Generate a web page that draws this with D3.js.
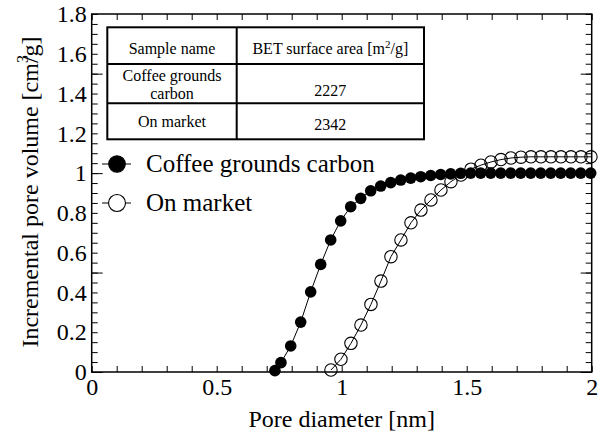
<!DOCTYPE html>
<html>
<head>
<meta charset="utf-8">
<script src="https://cdn.jsdelivr.net/npm/d3@7"></script>
<style>
  body { margin: 0; background: #fff; }
  svg { display: block; font-family: "Liberation Serif", "Times New Roman", serif; }
</style>
</head>
<body>
<script>
"use strict";
// pore size distribution
const coffeeX = [0.733, 0.757, 0.796, 0.836, 0.876, 0.916, 0.956, 0.996, 1.036, 1.076, 1.116, 1.156,
    1.196, 1.236, 1.276, 1.316, 1.356, 1.396, 1.436, 1.476, 1.516, 1.556, 1.596, 1.636, 1.676,
    1.716, 1.756, 1.796, 1.836, 1.876, 1.916, 1.956, 1.996];
const coffeeY = [0.007, 0.047, 0.131, 0.251, 0.403, 0.541, 0.664, 0.760, 0.831, 0.873, 0.911, 0.935,
    0.952, 0.965, 0.975, 0.982, 0.988, 0.993, 0.996, 0.999, 1.0, 1.0, 1.0, 1.0, 1.0,
    1.0, 1.0, 1.0, 1.0, 1.0, 1.0, 1.0, 1.0];
const marketX = [0.957, 0.997, 1.037, 1.077, 1.117, 1.157, 1.197, 1.237, 1.277, 1.317, 1.357, 1.397,
    1.437, 1.477, 1.517, 1.557, 1.597, 1.637, 1.677, 1.717, 1.757, 1.797, 1.837, 1.877, 1.917,
    1.957, 1.997];
const marketY = [0.010, 0.064, 0.144, 0.236, 0.340, 0.457, 0.580, 0.664, 0.750, 0.814, 0.865, 0.915,
    0.957, 0.990, 1.020, 1.040, 1.056, 1.068, 1.076, 1.080, 1.082, 1.082, 1.082, 1.082, 1.082,
    1.082, 1.082];

const seriesNames = ["Coffee grounds carbon", "On market"];
const xLabelValues = [0, 0.5, 1, 1.5, 2];
const xLabelText = ["0", "0.5", "1", "1.5", "2"];
const yLabelValues = [0, 0.2, 0.4, 0.6, 0.8, 1, 1.2, 1.4, 1.6, 1.8];
const yLabelText = ["0", "0.2", "0.4", "0.6", "0.8", "1", "1.2", "1.4", "1.6", "1.8"];
const yMajorTicks = [0, 0.5, 1, 1.5];

const tableHeader = ["Sample name", "BET surface area [m2/g]"];
const tableSamples = [["Coffee grounds", "carbon"], ["On market"]];
const tableBET = ["2227", "2342"];

const W = 601, H = 436;
const plot = { left: 91.7, right: 591.7, top: 14, bottom: 372 };

const svg = d3.select("body").append("svg")
    .attr("width", W)
    .attr("height", H);

const x = d3.scaleLinear().domain([0, 2]).range([plot.left, plot.right]);
const y = d3.scaleLinear().domain([0, 1.8]).range([plot.bottom, plot.top]);

const xMinor = d3.range(0, 20.5, 1).map(d => d / 10);
const yMinor = d3.range(0, 36.5, 1).map(d => d / 20);

function tickAxis(axis, values, size, where) {
    const g = svg.append("g")
        .attr("transform", where)
        .call(axis.tickValues(values).tickSizeInner(-size).tickSizeOuter(0).tickFormat(""));
    g.select(".domain").remove();
    g.selectAll("line").attr("stroke", "#000").attr("stroke-width", 1);
    return g;
}

// tick marks on all four sides, pointing inwards
tickAxis(d3.axisBottom(x), xMinor, 6, `translate(0,${plot.bottom})`);
tickAxis(d3.axisTop(x), xMinor, 6, `translate(0,${plot.top})`);
tickAxis(d3.axisLeft(y), yMinor, 6, `translate(${plot.left},0)`);
tickAxis(d3.axisRight(y), yMinor, 6, `translate(${plot.right},0)`);
tickAxis(d3.axisLeft(y), yMajorTicks, 11, `translate(${plot.left},0)`);
tickAxis(d3.axisRight(y), yMajorTicks, 11, `translate(${plot.right},0)`);

// tick labels
const xl = svg.append("g")
    .attr("transform", `translate(0,${plot.bottom})`)
    .call(d3.axisBottom(x).tickValues(xLabelValues).tickSize(0).tickPadding(6)
        .tickFormat((d, i) => xLabelText[i]));
xl.select(".domain").remove();
xl.selectAll("text").style("font-size", "24px").attr("fill", "#000")
    .attr("font-family", "Liberation Serif, serif");

const yl = svg.append("g")
    .attr("transform", `translate(${plot.left},0)`)
    .call(d3.axisLeft(y).tickValues(yLabelValues).tickSize(0).tickPadding(5)
        .tickFormat((d, i) => yLabelText[i]));
yl.select(".domain").remove();
yl.selectAll("text").style("font-size", "24px").attr("fill", "#000")
    .attr("font-family", "Liberation Serif, serif");

// frame
svg.append("rect")
    .attr("x", plot.left).attr("y", plot.top)
    .attr("width", plot.right - plot.left).attr("height", plot.bottom - plot.top)
    .attr("fill", "none").attr("stroke", "#000").attr("stroke-width", 1.5);

// axis titles
svg.append("text")
    .attr("x", (plot.left + plot.right) / 2).attr("y", 427)
    .attr("text-anchor", "middle")
    .style("font-size", "24px")
    .text("Pore diameter [nm]");

const yt = svg.append("text")
    .attr("transform", "translate(38,192) rotate(-90)")
    .attr("text-anchor", "middle")
    .style("font-size", "24px");
yt.append("tspan").text("Incremental pore volume [cm");
yt.append("tspan").attr("dy", -10).style("font-size", "16px").text("3");
yt.append("tspan").attr("dy", 10).attr("dx", -8).text("/g]");

// series
const coffee = coffeeX.map((d, i) => ({ x: d, y: coffeeY[i] }));
const market = marketX.map((d, i) => ({ x: d, y: marketY[i] }));
const line = d3.line().x(d => x(d.x)).y(d => y(d.y));

svg.append("path").datum(market).attr("d", line)
    .attr("fill", "none").attr("stroke", "#000").attr("stroke-width", 1);
svg.selectAll(".open").data(market).enter().append("circle")
    .attr("class", "open")
    .attr("cx", d => x(d.x)).attr("cy", d => y(d.y)).attr("r", 6.2)
    .attr("fill", "none").attr("stroke", "#000").attr("stroke-width", 1.1);

svg.append("path").datum(coffee).attr("d", line)
    .attr("fill", "none").attr("stroke", "#000").attr("stroke-width", 1);
svg.selectAll(".filled").data(coffee).enter().append("circle")
    .attr("class", "filled")
    .attr("cx", d => x(d.x)).attr("cy", d => y(d.y)).attr("r", 5.8)
    .attr("fill", "#000");

// legend
const legend = svg.append("g");
seriesNames.forEach((name, i) => {
    const cy = 164 + i * 39;
    legend.append("line").attr("x1", 102).attr("x2", 131).attr("y1", cy).attr("y2", cy)
        .attr("stroke", "#000").attr("stroke-width", 1);
    legend.append("circle").attr("cx", 117).attr("cy", cy).attr("r", i === 0 ? 8.3 : 8.5)
        .attr("fill", i === 0 ? "#000" : "#fff").attr("stroke", "#000").attr("stroke-width", 1.1);
    legend.append("text").attr("x", 146).attr("y", cy + 8)
        .style("font-size", "25px").text(name);
});

// table of BET surface areas
const tbl = { left: 107.3, mid: 236.7, right: 424, rows: [27.3, 64, 103.3, 139.3] };
const tg = svg.append("g");
tg.append("rect").attr("x", tbl.left).attr("y", tbl.rows[0])
    .attr("width", tbl.right - tbl.left).attr("height", tbl.rows[3] - tbl.rows[0])
    .attr("fill", "#fff").attr("stroke", "#000").attr("stroke-width", 2);
[tbl.rows[1], tbl.rows[2]].forEach(r => {
    tg.append("line").attr("x1", tbl.left).attr("x2", tbl.right).attr("y1", r).attr("y2", r)
        .attr("stroke", "#000").attr("stroke-width", 2);
});
tg.append("line").attr("x1", tbl.mid).attr("x2", tbl.mid)
    .attr("y1", tbl.rows[0]).attr("y2", tbl.rows[3])
    .attr("stroke", "#000").attr("stroke-width", 2);

const c1 = (tbl.left + tbl.mid) / 2, c2 = (tbl.mid + tbl.right) / 2;
tg.append("text").attr("x", c1).attr("y", 54).attr("text-anchor", "middle")
    .style("font-size", "16px").text(tableHeader[0]);
const bet = tg.append("text").attr("x", c2).attr("y", 54).attr("text-anchor", "middle")
    .style("font-size", "16px");
bet.append("tspan").text("BET surface area [m");
bet.append("tspan").attr("dy", -6).style("font-size", "11px").text("2");
bet.append("tspan").attr("dy", 6).text("/g]");

tg.append("text").attr("x", c1).attr("y", 81).attr("text-anchor", "middle")
    .style("font-size", "16px").text(tableSamples[0][0]);
tg.append("text").attr("x", c1).attr("y", 99).attr("text-anchor", "middle")
    .style("font-size", "16px").text(tableSamples[0][1]);
tg.append("text").attr("x", c1).attr("y", 127).attr("text-anchor", "middle")
    .style("font-size", "16px").text(tableSamples[1][0]);
tg.append("text").attr("x", c2).attr("y", 96).attr("text-anchor", "middle")
    .style("font-size", "16px").text(tableBET[0]);
tg.append("text").attr("x", c2).attr("y", 130).attr("text-anchor", "middle")
    .style("font-size", "16px").text(tableBET[1]);
</script>
</body>
</html>
